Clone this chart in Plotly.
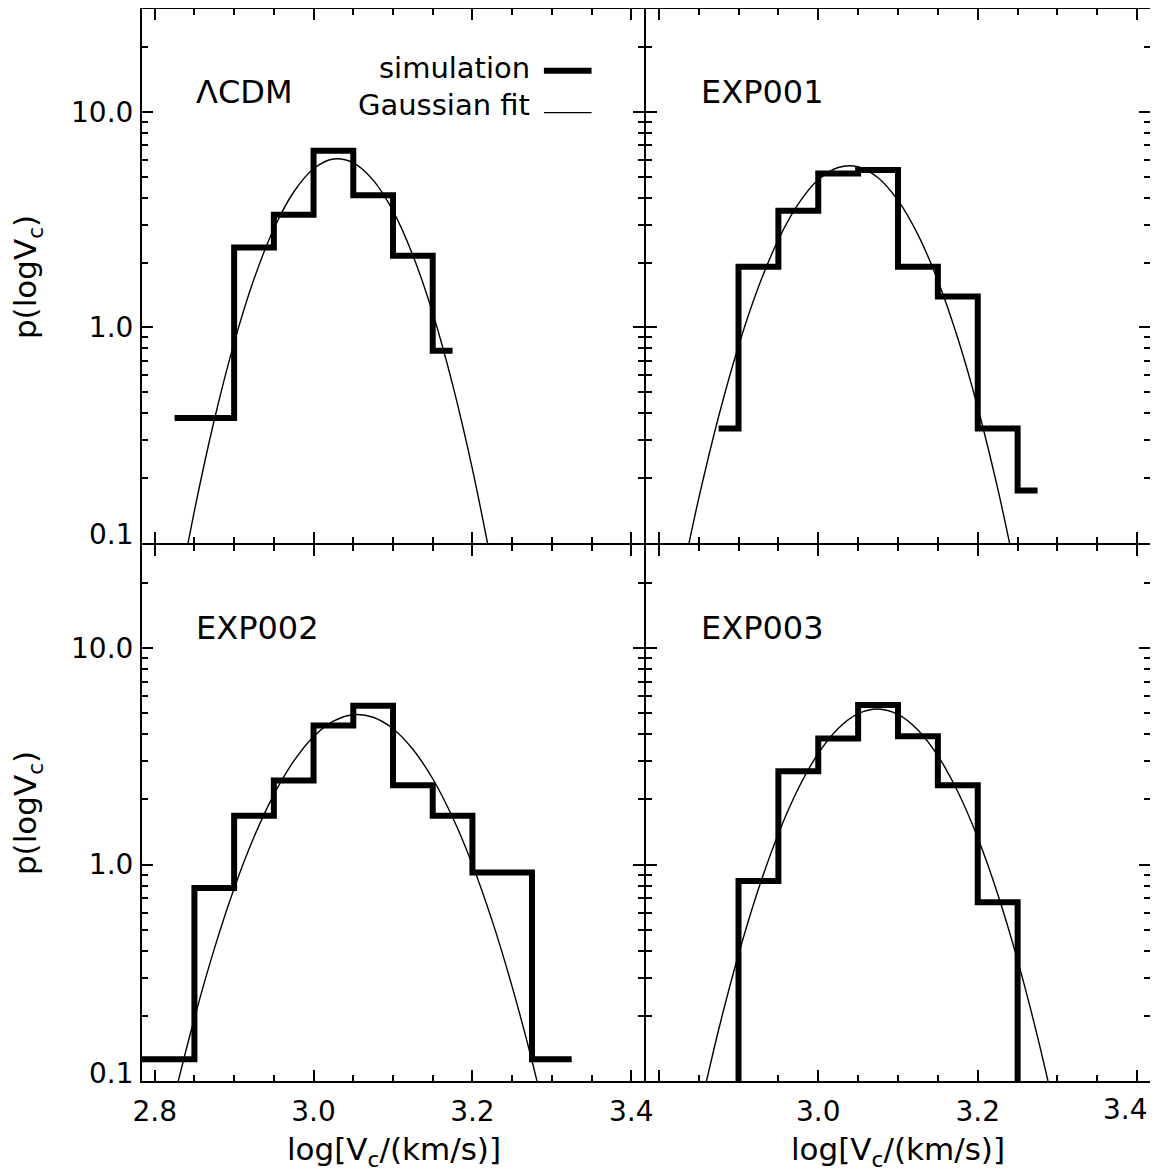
import math
import plotly.graph_objects as go
from plotly.subplots import make_subplots

FONT = "DejaVu Sans"

# ---------------- data ----------------
panel_names = ["ΛCDM", "EXP001", "EXP002", "EXP003"]

# simulation histograms: step edges and the value of each step
lcdm_edges = [2.825, 2.90, 2.95, 3.00, 3.05, 3.10, 3.15, 3.175]
lcdm_sim = [0.38, 2.35, 3.33, 6.6, 4.1, 2.15, 0.78]

exp001_edges = [2.875, 2.90, 2.95, 3.00, 3.05, 3.10, 3.15, 3.20, 3.25, 3.275]
exp001_sim = [0.34, 1.91, 3.48, 5.18, 5.38, 1.91, 1.39, 0.34, 0.175]

exp002_edges = [2.775, 2.85, 2.90, 2.95, 3.00, 3.05, 3.10, 3.15, 3.20, 3.275, 3.325]
exp002_sim = [0.126, 0.78, 1.68, 2.45, 4.4, 5.42, 2.33, 1.68, 0.92, 0.126]

exp003_edges = [2.85, 2.90, 2.95, 3.00, 3.05, 3.10, 3.15, 3.20, 3.25, 3.30]
exp003_sim = [0.0, 0.84, 2.70, 3.83, 5.47, 3.92, 2.33, 0.67, 0.0]

# Gaussian fit curves
lcdm_fit_x = [2.825, 2.850, 2.875, 2.900, 2.925, 2.950, 2.975, 3.000, 3.025,
              3.050, 3.075, 3.100, 3.125, 3.150, 3.175, 3.200, 3.225]
lcdm_fit_y = [0.046, 0.141, 0.372, 0.848, 1.676, 2.869, 4.248, 5.444, 6.039,
              5.800, 4.823, 3.470, 2.161, 1.166, 0.544, 0.220, 0.077]

exp001_fit_x = [2.825, 2.850, 2.875, 2.900, 2.925, 2.950, 2.975, 3.000, 3.025,
                3.050, 3.075, 3.100, 3.125, 3.150, 3.175, 3.200, 3.225, 3.250]
exp001_fit_y = [0.059, 0.160, 0.385, 0.820, 1.540, 2.555, 3.742, 4.837, 5.521,
                5.563, 4.947, 3.884, 2.693, 1.648, 0.890, 0.425, 0.179, 0.066]

exp002_fit_x = [2.800, 2.825, 2.850, 2.875, 2.900, 2.925, 2.950, 2.975, 3.000,
                3.025, 3.050, 3.075, 3.100, 3.125, 3.150, 3.175, 3.200, 3.225,
                3.250, 3.275, 3.300]
exp002_fit_y = [0.033, 0.085, 0.195, 0.408, 0.776, 1.341, 2.106, 3.008, 3.902,
                4.600, 4.929, 4.799, 4.246, 3.413, 2.494, 1.655, 0.999, 0.548,
                0.273, 0.124, 0.051]

exp003_fit_x = [2.850, 2.875, 2.900, 2.925, 2.950, 2.975, 3.000, 3.025, 3.050,
                3.075, 3.100, 3.125, 3.150, 3.175, 3.200, 3.225, 3.250, 3.275,
                3.300]
exp003_fit_y = [0.069, 0.172, 0.384, 0.771, 1.390, 2.248, 3.266, 4.259, 4.986,
                5.240, 4.943, 4.185, 3.183, 2.172, 1.331, 0.732, 0.361, 0.160,
                0.064]

x_major = [2.8, 3.0, 3.2, 3.4]
x_major_text_left = ["2.8", "3.0", "3.2", "3.4"]
x_major_text_right = ["", "3.0", "3.2", ""]
x_edge_label = "3.4"
x_minor = [2.85, 2.90, 2.95, 3.05, 3.10, 3.15, 3.25, 3.30, 3.35]
y_major = [0.1, 1, 10]
y_major_text = ["", "1.0", "10.0"]
y_bottom_label = "0.1"
y_minor = [0.2, 0.3, 0.4, 0.5, 0.6, 0.7, 0.8, 0.9, 2, 3, 4, 5, 6, 7, 8, 9, 20]

legend_labels = ["simulation", "Gaussian fit"]
x_title = "log[V<sub>c</sub>/(km/s)]"
y_title = "p(logV<sub>c</sub>)"

# ---------------- figure ----------------
FLOOR = 1e-3  # empty bins drop below the log axis

fig = make_subplots(rows=2, cols=2, horizontal_spacing=0, vertical_spacing=0)

panels = [
    (1, 1, lcdm_edges, lcdm_sim, lcdm_fit_x, lcdm_fit_y),
    (1, 2, exp001_edges, exp001_sim, exp001_fit_x, exp001_fit_y),
    (2, 1, exp002_edges, exp002_sim, exp002_fit_x, exp002_fit_y),
    (2, 2, exp003_edges, exp003_sim, exp003_fit_x, exp003_fit_y),
]

for r, c, edges, vals, fx, fy in panels:
    fig.add_trace(go.Scatter(x=fx, y=fy, mode="lines",
                             line=dict(color="black", width=1.4, shape="spline"),
                             showlegend=False, hoverinfo="skip"), row=r, col=c)
    ys = [max(v, FLOOR) for v in vals]
    ys = ys + [ys[-1]]
    fig.add_trace(go.Scatter(x=edges, y=ys, mode="lines",
                             line=dict(color="black", width=6, shape="hv"),
                             showlegend=False, hoverinfo="skip"), row=r, col=c)

tickfont = dict(family=FONT, size=28, color="black")
X_RANGE = [2.784, 3.416]

for r in (1, 2):
    for c in (1, 2):
        fig.update_xaxes(
            range=X_RANGE, showline=True, linecolor="black", linewidth=2,
            mirror="allticks", ticks="inside", ticklen=11, tickwidth=2,
            tickcolor="black", tickvals=x_major,
            ticktext=(x_major_text_left if c == 1 else x_major_text_right),
            showticklabels=(r == 2), showgrid=False, zeroline=False,
            tickfont=tickfont, ticklabelstandoff=4, automargin=False,
            minor=dict(tickvals=x_minor, ticks="inside", ticklen=6,
                       tickwidth=2, tickcolor="black", showgrid=False),
            row=r, col=c)
        fig.update_yaxes(
            type="log", range=[-1, math.log10(30)], showline=True,
            linecolor="black", linewidth=2, mirror="allticks", ticks="inside",
            ticklen=11, tickwidth=2, tickcolor="black", tickvals=y_major,
            ticktext=y_major_text, showticklabels=(c == 1), showgrid=False,
            zeroline=False, tickfont=tickfont, ticklabelstandoff=1,
            automargin=False,
            minor=dict(tickvals=y_minor, ticks="inside", ticklen=6,
                       tickwidth=2, tickcolor="black", showgrid=False),
            row=r, col=c)

# domains nudged so the shared frame lines of neighbouring panels coincide
fig.update_xaxes(domain=[0, 0.498], col=1)
fig.update_xaxes(domain=[0.5, 1], col=2)
fig.update_yaxes(domain=[0.5019, 1], row=1)
fig.update_yaxes(domain=[0, 0.5], row=2)

annotations = []
axis_ids = [("x", "y"), ("x2", "y2"), ("x3", "y3"), ("x4", "y4")]
for name, (xa, ya) in zip(panel_names, axis_ids):
    annotations.append(dict(text=name, x=2.85, xref=xa, y=0.845,
                            yref=ya + " domain", xanchor="left",
                            yanchor="middle", showarrow=False,
                            font=dict(family=FONT, size=32, color="black")))

# bottom tick label of each left panel sits a little above its tick
for ya in ("y", "y3"):
    annotations.append(dict(text=y_bottom_label, x=0, xref="x domain",
                            y=0, yref=ya + " domain", xanchor="right",
                            yanchor="middle", xshift=-6, yshift=8,
                            showarrow=False, font=tickfont))

# legend in the first panel (text left of the line sample)
annotations.append(dict(text=legend_labels[0], x=3.275, xref="x", y=0.890,
                        yref="y domain", xanchor="right", yanchor="middle",
                        showarrow=False,
                        font=dict(family=FONT, size=29, color="black")))
annotations.append(dict(text=legend_labels[1], x=3.275, xref="x", y=0.821,
                        yref="y domain", xanchor="right", yanchor="middle",
                        showarrow=False,
                        font=dict(family=FONT, size=29, color="black")))
shapes = [
    dict(type="line", xref="x", yref="y domain", x0=3.29, x1=3.35,
         y0=0.8844, y1=0.8844, line=dict(color="black", width=6)),
    dict(type="line", xref="x", yref="y domain", x0=3.29, x1=3.35,
         y0=0.806, y1=0.806, line=dict(color="black", width=1.4)),
]

# last tick label of the lower-right panel, kept inside the frame edge
annotations.append(dict(text=x_edge_label, x=X_RANGE[1], xref="x4",
                        y=-0.027, yref="paper", xanchor="right",
                        yanchor="middle", showarrow=False,
                        font=tickfont))

# axis titles
for xc in (0.25, 0.75):
    annotations.append(dict(text=x_title, x=xc, xref="paper", y=-0.066,
                            yref="paper", xanchor="center", yanchor="middle",
                            showarrow=False,
                            font=dict(family=FONT, size=31, color="black")))
for yc in (0.75, 0.25):
    annotations.append(dict(text=y_title, x=-0.114, xref="paper", y=yc,
                            yref="paper", xanchor="center", yanchor="middle",
                            textangle=-90, showarrow=False,
                            font=dict(family=FONT, size=31, color="black")))

# the page body adds an 8 px offset; margins compensate for it
fig.update_layout(
    width=1150, height=1168,
    margin=dict(l=134, r=8, t=1, b=95),
    paper_bgcolor="white", plot_bgcolor="white",
    annotations=annotations, shapes=shapes,
    font=dict(family=FONT, color="black"),
    showlegend=False,
)

fig.write_html("out.html")
